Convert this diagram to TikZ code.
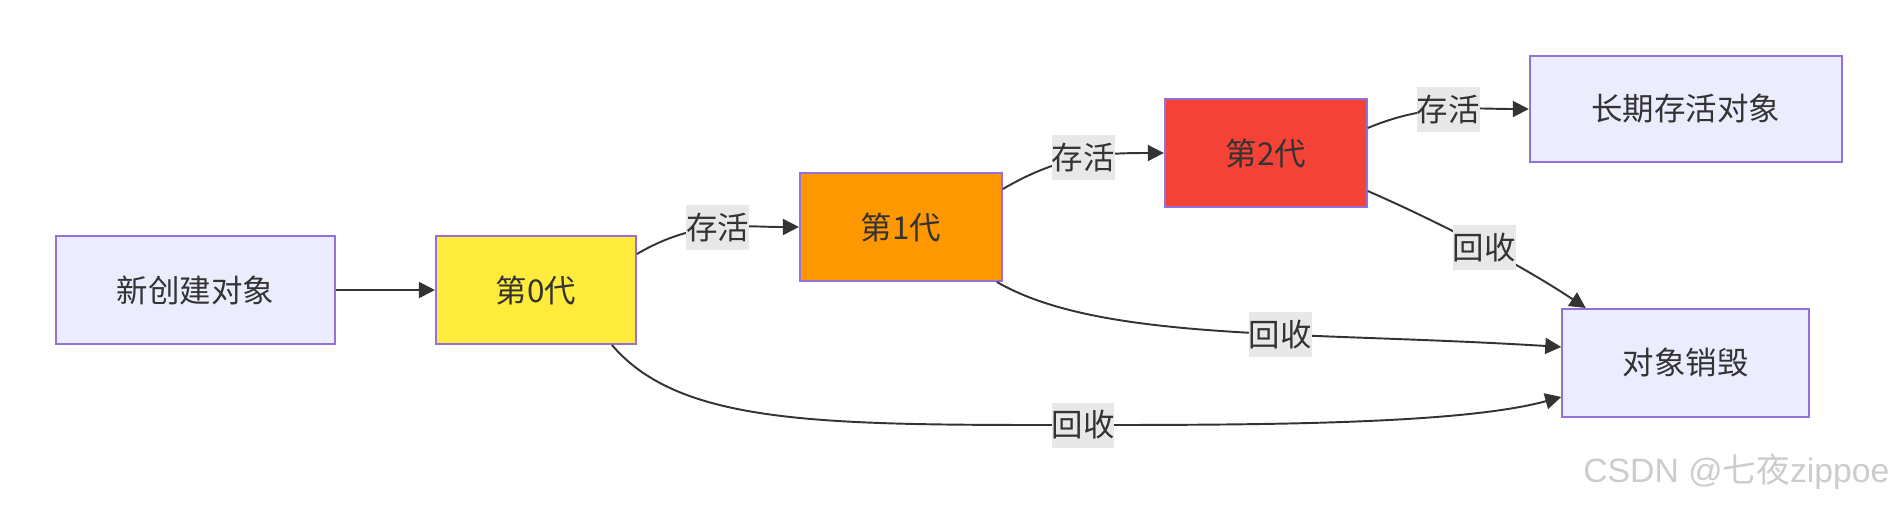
\documentclass[tikz,border=0pt]{standalone}
\usepackage{fontspec}
\setmainfont{Noto Sans CJK SC}
\newfontfamily\wmlatin{Liberation Sans}
\usepackage{xcolor}
\usepackage{tikz}
\usetikzlibrary{arrows.meta,positioning}

\definecolor{boxfill}{HTML}{ECECFF}
\definecolor{boxline}{HTML}{9370DB}
\definecolor{gen0fill}{HTML}{FFEB3B}
\definecolor{gen1fill}{HTML}{FF9800}
\definecolor{gen2fill}{HTML}{F44336}
\definecolor{edgecol}{HTML}{333333}
\definecolor{lblbg}{HTML}{E8E8E8}
\definecolor{wmgray}{HTML}{CCCCCC}
\newcommand{\nodefont}{\fontsize{17.9pt}{21pt}\selectfont}
\newcommand{\wmfont}{\fontsize{19.2pt}{22pt}\selectfont}

\begin{document}
\begin{tikzpicture}[
  box/.style={draw=boxline, line width=1.1pt, fill=boxfill, minimum width=4cm, minimum height=2.16cm, align=center, text=edgecol, font=\nodefont},
  lbl/.style={fill=lblbg, inner xsep=0pt, inner ysep=0pt, minimum height=0.9cm, text=edgecol, font=\nodefont},
  arr/.style={-{Triangle[length=0.32cm, width=0.32cm]}, line width=1.1pt, draw=edgecol}
]
\useasboundingbox (0,0) rectangle (37.96,-10.12);
\node[box, minimum width=5.58cm] (new) at (3.91,-5.80) {新创建对象};
\node[box, fill=gen0fill, right=1.98cm of new] (gen0) {第0代};
\node[box, fill=gen1fill, minimum width=4.04cm, right=3.24cm of gen0, yshift=1.26cm] (gen1) {第1代};
\node[box, fill=gen2fill, minimum width=4.04cm, right=3.22cm of gen1, yshift=1.48cm] (gen2) {第2代};
\node[box, minimum width=6.24cm, minimum height=2.12cm, right=3.22cm of gen2, yshift=0.88cm] (old) {长期存活对象};
\node[box, minimum width=4.94cm, below=2.9cm of old] (dead) {对象销毁};
\draw[arr] (new) -- (gen0);
\draw[arr] ([yshift=0.72cm]gen0.east) .. controls +(1.2,0.7) and +(-1.2,0) .. (gen1.west) node[lbl, pos=0.5] {存活};
\draw[arr] ([yshift=0.76cm]gen1.east) .. controls +(1.2,0.7) and +(-1.2,0) .. (gen2.west) node[lbl, pos=0.5] {存活};
\draw[arr] ([yshift=0.5cm]gen2.east) .. controls +(1.2,0.5) and +(-1.2,0) .. (old.west) node[lbl, pos=0.5] {存活};
\draw[arr] ([yshift=-0.76cm]gen2.east) .. controls +(1.6,-0.7) and +(-1.2,0.8) .. ([xshift=-2cm]dead.north) node[lbl, pos=0.5] {回收};
\draw[arr] ([xshift=-0.12cm]gen1.south east) .. controls +(2.08,-1.2) and +(-5.2,0.32) .. ([yshift=0.32cm]dead.west) node[lbl, pos=0.6] {回收};
\draw[arr] ([xshift=-0.5cm]gen0.south east) .. controls +(1.38,-1.62) and +(-5.16,0) .. (21.66,-8.5) node[lbl] {回收}
  .. controls +(3.5,0) and +(-2.0,-0.55) .. ([yshift=-0.68cm]dead.west);
\node[text=wmgray, font=\wmfont, anchor=base west, inner sep=0pt] (credit) at (31.66,-9.64) {\wmlatin CSDN @\normalfont 七夜\wmlatin zippoe};
\end{tikzpicture}
\end{document}
